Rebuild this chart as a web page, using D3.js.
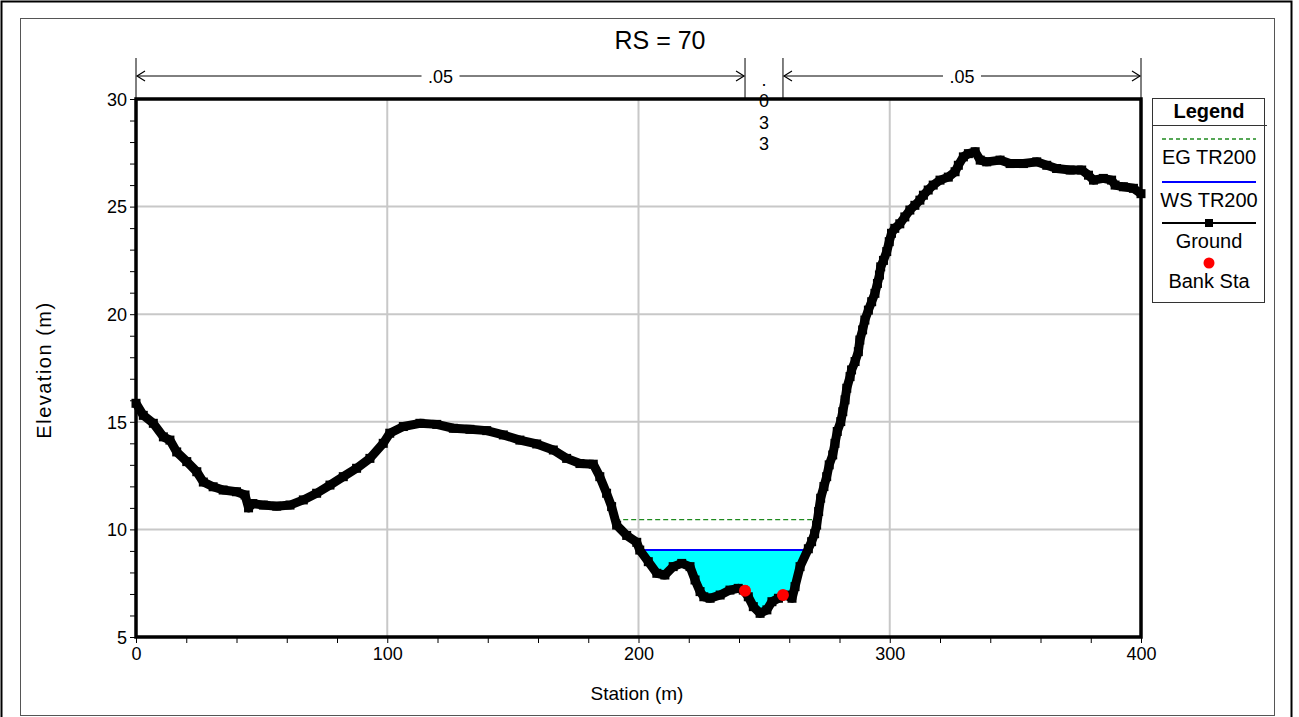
<!DOCTYPE html>
<html>
<head>
<meta charset="utf-8">
<script src="https://cdn.jsdelivr.net/npm/d3@7"></script>
<style>
  body { margin: 0; background: #fff; }
  svg { display: block; font-family: "Liberation Sans", Arial, sans-serif; }
</style>
</head>
<body>
<svg></svg>
<script>
// ground profile (station m, elevation m)
var groundSta = [0, 2.9, 6.9, 10.9, 13.5, 16.2, 20.2, 24.2, 26.8, 30.7, 34.7, 40, 43.4, 44.8, 46.5,
  50.7, 56, 61.3, 66.6, 71.9, 77.2, 82.5, 87.8, 93.1, 98.4, 101, 106.4, 113, 119.7, 126.3,
  132.9, 139.6, 146.2, 152.8, 159.5, 166.1, 171.4, 176.7, 182, 184.6, 187.3, 189.3, 191.3,
  195.3, 199.3, 200.5, 203.9, 207.3, 210.5, 213.8, 217.2, 220.5, 222.5, 224.5, 226, 228.5,
  232.5, 236.4, 239.7, 241.7, 243.7, 245.7, 248.4, 251.1, 253.1, 255.7, 258.5, 261.1, 262.3,
  264.3, 267.6, 268.9, 270.1, 270.9, 271.7, 272.5, 273.8, 274.9, 275.9, 277.3, 278.2, 279.1,
  280.5, 281.3, 282.2, 282.9, 284.2, 284.8, 286.2, 287.5, 288.1, 289.2, 290.1, 291.5, 292.8,
  294.1, 295.1, 295.9, 296.4, 297.5, 298.8, 299.8, 300.7, 302, 304, 306, 308, 310, 312, 313.4,
  315.3, 317.3, 320, 323.3, 326, 327.3, 329.3, 331.3, 334, 336, 338.6, 343.9, 347.9, 353.2,
  358.5, 362.5, 366.4, 371.8, 376.4, 379.1, 381.1, 385, 388.3, 389.7, 393, 397, 400];
var groundElev = [15.86, 15.3, 14.93, 14.3, 14.15, 13.6, 13.15, 12.68, 12.2, 11.98, 11.83, 11.75, 11.6, 11.0, 11.2,
  11.13, 11.08, 11.13, 11.37, 11.68, 12.06, 12.45, 12.84, 13.3, 14.0, 14.47, 14.78, 14.93, 14.88, 14.7,
  14.65, 14.59, 14.39, 14.15, 13.97, 13.69, 13.3, 13.06, 13.03, 12.45, 11.68, 11.06, 10.2,
  9.72, 9.4, 9.04, 8.5, 7.96, 7.88, 8.27, 8.42, 8.27, 7.65, 7.11, 6.87, 6.8,
  6.95, 7.18, 7.26, 7.18, 6.87, 6.41, 6.1, 6.26, 6.64, 6.8, 6.95, 6.8, 7.34,
  8.27, 9.1, 9.43, 9.8, 10.2, 10.83, 11.45, 11.99, 12.45, 13.0, 13.46, 14.0, 14.55,
  15.01, 15.47, 16.02, 16.56, 17.1, 17.41, 17.8, 18.26, 18.8, 19.27, 19.73, 20.19, 20.58,
  20.97, 21.43, 21.82, 22.2, 22.5, 22.91, 23.37, 23.76, 23.99, 24.2, 24.52, 24.84, 25.06, 25.3, 25.53,
  25.77, 26.0, 26.23, 26.37, 26.62, 26.92, 27.31, 27.46, 27.55, 27.16, 27.08, 27.16, 27.0, 27.0,
  27.08, 26.92, 26.77, 26.7, 26.7, 26.46, 26.23, 26.31, 26.23, 26.0, 25.92, 25.85, 25.6];

var bankSta = [242.4, 257.5];
var bankElev = [7.15, 6.95];
var wsElev = 9.04;   // WS TR200
var egElev = 10.45;  // EG TR200

// manning's n zones
var nBreaks = [0, 242.4, 257.5, 400];
var nValues = [".05", ".033", ".05"];

var xTicks = [0, 100, 200, 300, 400];
var yTicks = [5, 10, 15, 20, 25, 30];

var width = 1299, height = 717;
var plotLeft = 136, plotRight = 1141, plotTop = 99, plotBottom = 637;

var svg = d3.select("svg")
  .attr("width", width)
  .attr("height", height);

var x = d3.scaleLinear().domain([0, 400]).range([plotLeft, plotRight]);
var y = d3.scaleLinear().domain([5, 30]).range([plotBottom, plotTop]);

var ground = groundSta.map(function(s, i) { return [s, groundElev[i]]; });

// outer frames
svg.append("rect").attr("x", 1.5).attr("y", 1.5).attr("width", 1290).attr("height", 730)
  .attr("fill", "none").attr("stroke", "#000").attr("stroke-width", 2);
svg.append("rect").attr("x", 20.5).attr("y", 18.5).attr("width", 1254).attr("height", 697)
  .attr("fill", "none").attr("stroke", "#555").attr("stroke-width", 1);

// gridlines
svg.append("g").selectAll("line")
  .data(xTicks.slice(1, -1))
  .enter().append("line")
  .attr("x1", function(d) { return x(d); }).attr("x2", function(d) { return x(d); })
  .attr("y1", plotTop).attr("y2", plotBottom)
  .attr("stroke", "#c8c8c8").attr("stroke-width", 2);
svg.append("g").selectAll("line")
  .data(yTicks.slice(1, -1))
  .enter().append("line")
  .attr("y1", function(d) { return y(d); }).attr("y2", function(d) { return y(d); })
  .attr("x1", plotLeft).attr("x2", plotRight)
  .attr("stroke", "#c8c8c8").attr("stroke-width", 2);

// axes
var xAxis = d3.axisBottom(x)
  .tickValues(d3.range(0, 401, 20))
  .tickSize(6).tickPadding(4)
  .tickFormat(function(d) { return xTicks.indexOf(d) >= 0 ? d : ""; });
var yAxis = d3.axisLeft(y)
  .tickValues(d3.range(5, 31, 1))
  .tickSize(6).tickPadding(3)
  .tickFormat(function(d) { return yTicks.indexOf(d) >= 0 ? d : ""; });

var gx = svg.append("g").attr("transform", "translate(0," + plotBottom + ")").call(xAxis);
var gy = svg.append("g").attr("transform", "translate(" + plotLeft + ",0)").call(yAxis);
[gx, gy].forEach(function(g) {
  g.select(".domain").remove();
  g.selectAll("text").attr("font-size", 18).attr("fill", "#000")
    .attr("font-family", "'Liberation Sans', Arial, sans-serif");
  g.selectAll("line").attr("stroke", "#000");
});
gy.selectAll("text").attr("dy", "0.35em");

// water fill below WS
var wet = d3.area()
  .x(function(d) { return x(d[0]); })
  .y0(y(wsElev))
  .y1(function(d) { return y(Math.min(d[1], wsElev)); });
svg.append("path").datum(ground).attr("d", wet).attr("fill", "#00ffff");

// where a level meets the ground, left and right of the channel
function crossings(level) {
  var pts = [];
  for (var i = 1; i < ground.length; i++) {
    var a = ground[i - 1], b = ground[i];
    if ((a[1] - level) * (b[1] - level) <= 0 && a[1] != b[1]) {
      pts.push(a[0] + (level - a[1]) * (b[0] - a[0]) / (b[1] - a[1]));
    }
  }
  return [d3.min(pts), d3.max(pts)];
}

var eg = crossings(egElev), ws = crossings(wsElev);
svg.append("line")
  .attr("x1", x(eg[0])).attr("x2", x(eg[1]))
  .attr("y1", y(egElev)).attr("y2", y(egElev))
  .attr("stroke", "#1f8a1f").attr("stroke-width", 1.3).attr("stroke-dasharray", "5,3");
svg.append("line")
  .attr("x1", x(ws[0])).attr("x2", x(ws[1]))
  .attr("y1", y(wsElev)).attr("y2", y(wsElev))
  .attr("stroke", "#0000ff").attr("stroke-width", 2);

// ground line with square markers
var line = d3.line()
  .x(function(d) { return x(d[0]); })
  .y(function(d) { return y(d[1]); });
svg.append("path").datum(ground).attr("d", line)
  .attr("fill", "none").attr("stroke", "#000").attr("stroke-width", 9)
  .attr("stroke-linejoin", "round");
svg.append("g").selectAll("rect")
  .data(ground)
  .enter().append("rect")
  .attr("x", function(d) { return x(d[0]) - 4.5; })
  .attr("y", function(d) { return y(d[1]) - 4.5; })
  .attr("width", 9).attr("height", 9)
  .attr("fill", "#000");

// bank stations
svg.append("g").selectAll("circle")
  .data(bankSta)
  .enter().append("circle")
  .attr("cx", function(d) { return x(d); })
  .attr("cy", function(d, i) { return y(bankElev[i]); })
  .attr("r", 6)
  .attr("fill", "#ff0000");

// plot frame
svg.append("rect")
  .attr("x", plotLeft).attr("y", plotTop)
  .attr("width", plotRight - plotLeft).attr("height", plotBottom - plotTop)
  .attr("fill", "none").attr("stroke", "#000").attr("stroke-width", 3.5);

// title and axis labels
svg.append("text").attr("x", 660).attr("y", 49).attr("text-anchor", "middle")
  .attr("font-size", 25).text("RS = 70");
svg.append("text").attr("x", 637).attr("y", 700).attr("text-anchor", "middle")
  .attr("font-size", 19).text("Station (m)");
svg.append("text").attr("transform", "translate(51,370) rotate(-90)").attr("text-anchor", "middle")
  .attr("font-size", 20).attr("letter-spacing", 1.5).text("Elevation (m)");

// manning's n bar above the plot
var nTop = 58, nArrow = 76;
svg.append("g").selectAll("line")
  .data(nBreaks)
  .enter().append("line")
  .attr("x1", function(d) { return x(d); }).attr("x2", function(d) { return x(d); })
  .attr("y1", nTop).attr("y2", plotTop)
  .attr("stroke", "#000").attr("stroke-width", 1);

nValues.forEach(function(v, i) {
  var x0 = x(nBreaks[i]), x1 = x(nBreaks[i + 1]), xm = (x0 + x1) / 2;
  if (x1 - x0 > 80) {
    var g = svg.append("g");
    g.append("line").attr("x1", x0 + 1).attr("x2", x1 - 1).attr("y1", nArrow).attr("y2", nArrow)
      .attr("stroke", "#000").attr("stroke-width", 1);
    g.append("path")
      .attr("d", "M" + (x0 + 9) + "," + (nArrow - 5) + "L" + (x0 + 1) + "," + nArrow + "L" + (x0 + 9) + "," + (nArrow + 5) +
        "M" + (x1 - 9) + "," + (nArrow - 5) + "L" + (x1 - 1) + "," + nArrow + "L" + (x1 - 9) + "," + (nArrow + 5))
      .attr("fill", "none").attr("stroke", "#000").attr("stroke-width", 1.2);
    g.append("rect").attr("x", xm - 19).attr("y", nArrow - 9).attr("width", 38).attr("height", 18).attr("fill", "#fff");
    g.append("text").attr("x", xm).attr("y", nArrow + 7).attr("text-anchor", "middle")
      .attr("font-size", 18).text(v);
  } else {
    // too narrow: stack the characters
    svg.append("g").selectAll("text")
      .data(v.split(""))
      .enter().append("text")
      .attr("x", xm)
      .attr("y", function(d, j) { return 86 + j * 21.3; })
      .attr("text-anchor", "middle")
      .attr("font-size", 18)
      .text(function(d) { return d; });
  }
});

// legend
var lg = svg.append("g").attr("transform", "translate(1152,98)");
lg.append("rect").attr("x", 0.5).attr("y", 0.5).attr("width", 112).attr("height", 204)
  .attr("fill", "#fff").attr("stroke", "#333").attr("stroke-width", 1);
lg.append("text").attr("x", 57).attr("y", 20).attr("text-anchor", "middle")
  .attr("font-size", 20).attr("font-weight", "bold").text("Legend");
lg.append("line").attr("x1", 0).attr("x2", 115).attr("y1", 27.5).attr("y2", 27.5)
  .attr("stroke", "#333").attr("stroke-width", 1);

var legendNames = ["EG TR200", "WS TR200", "Ground", "Bank Sta"];
var ly = [41, 84, 125, 165];
legendNames.forEach(function(name, i) {
  var cy = ly[i];
  if (i == 0) {
    lg.append("line").attr("x1", 10).attr("x2", 104).attr("y1", cy).attr("y2", cy)
      .attr("stroke", "#1f8a1f").attr("stroke-width", 1.3).attr("stroke-dasharray", "4,3");
  } else if (i == 1) {
    lg.append("line").attr("x1", 10).attr("x2", 104).attr("y1", cy).attr("y2", cy)
      .attr("stroke", "#0000ff").attr("stroke-width", 2);
  } else if (i == 2) {
    lg.append("line").attr("x1", 10).attr("x2", 104).attr("y1", cy).attr("y2", cy)
      .attr("stroke", "#000").attr("stroke-width", 2);
    lg.append("rect").attr("x", 53).attr("y", cy - 4).attr("width", 8).attr("height", 8).attr("fill", "#000");
  } else {
    lg.append("circle").attr("cx", 57).attr("cy", cy).attr("r", 5.5).attr("fill", "#ff0000");
  }
  lg.append("text").attr("x", 57).attr("y", cy + 25).attr("text-anchor", "middle")
    .attr("font-size", 20).text(name);
});
</script>
</body>
</html>
